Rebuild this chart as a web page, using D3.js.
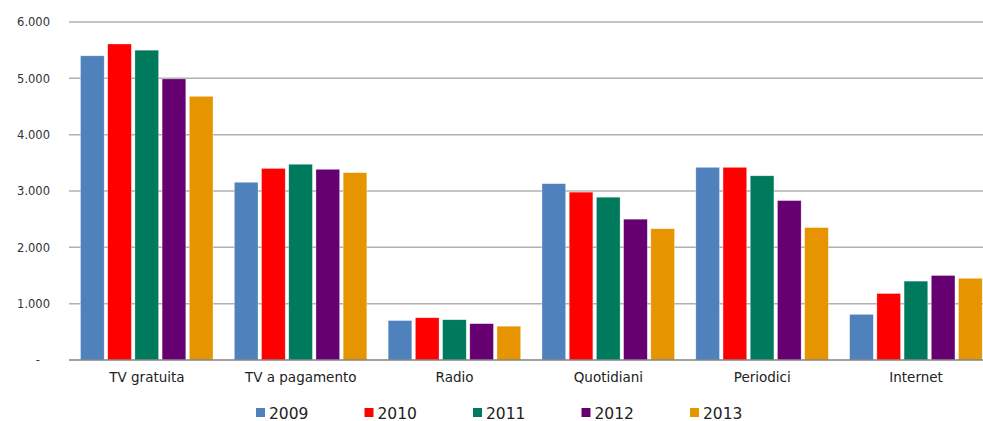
<!DOCTYPE html>
<html>
<head>
<meta charset="utf-8">
<script src="https://cdn.jsdelivr.net/npm/d3@7"></script>
<style>
  body { margin: 0; background: #fff; }
  text { font-family: "DejaVu Sans", Verdana, sans-serif; }
</style>
</head>
<body>
<svg width="983" height="421"></svg>
<script>
const categories = ['TV gratuita', 'TV a pagamento', 'Radio', 'Quotidiani', 'Periodici', 'Internet'];
const years = ['2009', '2010', '2011', '2012', '2013'];
const colors = ['#4F81BD', '#FF0000', '#007A5C', '#660070', '#E69500'];

const v2009 = [5400, 3155, 700, 3130, 3420, 810];
const v2010 = [5610, 3400, 750, 2980, 3420, 1180];
const v2011 = [5500, 3475, 715, 2890, 3270, 1400];
const v2012 = [4990, 3385, 645, 2500, 2830, 1500];
const v2013 = [4680, 3325, 600, 2330, 2350, 1450];

const yTicks = [0, 1000, 2000, 3000, 4000, 5000, 6000];
const yTickLabels = ['-', '1.000', '2.000', '3.000', '4.000', '5.000', '6.000'];

const series = [v2009, v2010, v2011, v2012, v2013];

const svg = d3.select('svg');

const plotLeft = 69;
const plotRight = 983;

// scales
const x0 = d3.scaleBand().domain(categories).range([70, 993]);
const x1 = d3.scaleBand().domain(years).range([10.5, 143]).paddingInner(0.13);
const y = d3.scaleLinear().domain([0, 6000]).range([360, 22]);
const color = d3.scaleOrdinal().domain(years).range(colors);

// gridlines
svg.append('g')
  .selectAll('line')
  .data(yTicks.filter(d => d > 0))
  .join('line')
  .attr('x1', plotLeft)
  .attr('x2', plotRight)
  .attr('y1', d => y(d))
  .attr('y2', d => y(d))
  .attr('stroke', '#b0b0b0')
  .attr('stroke-width', 1.5);

// y axis labels
const yAxis = d3.axisLeft(y)
  .tickValues(yTicks)
  .tickSize(0)
  .tickPadding(19)
  .tickFormat((d, i) => yTickLabels[i]);

const yAxisG = svg.append('g')
  .attr('transform', `translate(${plotLeft},0)`)
  .call(yAxis);
yAxisG.select('.domain').remove();
yAxisG.selectAll('text')
  .attr('font-size', 11.5)
  .attr('fill', '#333')
  .attr('font-family', '"DejaVu Sans", Verdana, sans-serif');
yAxisG.selectAll('.tick')
  .filter(d => d === 0)
  .select('text')
  .attr('dx', -10);

// bars
const groups = svg.append('g')
  .selectAll('g')
  .data(categories)
  .join('g')
  .attr('transform', d => `translate(${x0(d)},0)`);

groups.selectAll('rect')
  .data((c, i) => years.map((yr, j) => ({ year: yr, value: series[j][i] })))
  .join('rect')
  .attr('x', d => x1(d.year))
  .attr('width', x1.bandwidth())
  .attr('y', d => y(d.value))
  .attr('height', d => y(0) - y(d.value))
  .attr('fill', d => color(d.year))
  .attr('stroke', '#ffffff')
  .attr('stroke-opacity', 0.5)
  .attr('stroke-width', 0.6);

// baseline
svg.append('line')
  .attr('x1', plotLeft)
  .attr('x2', plotRight)
  .attr('y1', y(0))
  .attr('y2', y(0))
  .attr('stroke', '#808080')
  .attr('stroke-width', 1.5);

// x axis labels
const xAxis = d3.axisBottom(x0).tickSize(0).tickPadding(12);
const xAxisG = svg.append('g')
  .attr('transform', `translate(0,${y(0)})`)
  .call(xAxis);
xAxisG.select('.domain').remove();
xAxisG.selectAll('text')
  .attr('font-size', 13.5)
  .attr('fill', '#222')
  .attr('font-family', '"DejaVu Sans", Verdana, sans-serif');

// legend
const legendX = d3.scalePoint().domain(years).range([256, 690]);
const legend = svg.append('g')
  .selectAll('g')
  .data(years)
  .join('g')
  .attr('transform', d => `translate(${legendX(d)},413)`);

legend.append('rect')
  .attr('x', 0)
  .attr('y', -5)
  .attr('width', 9)
  .attr('height', 9)
  .attr('fill', d => color(d));

legend.append('text')
  .attr('x', 13)
  .attr('y', 5.5)
  .attr('font-size', 15.5)
  .attr('fill', '#222')
  .text(d => d);
</script>
</body>
</html>
